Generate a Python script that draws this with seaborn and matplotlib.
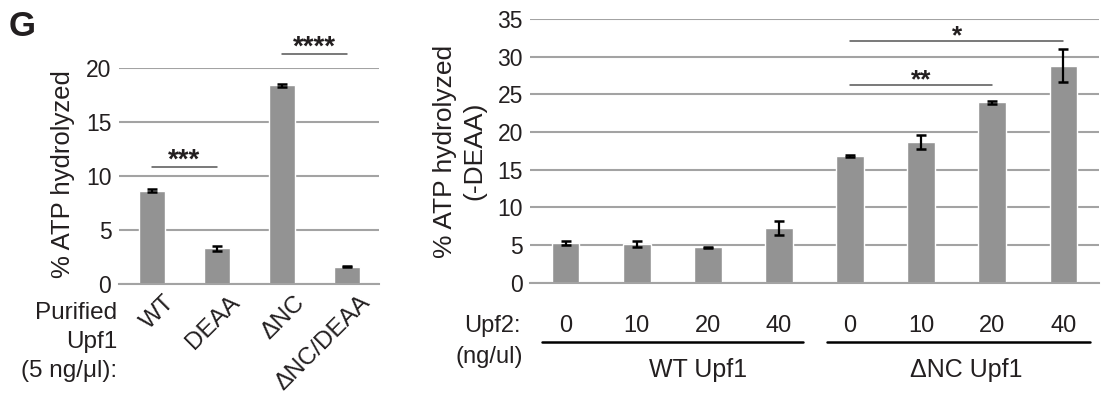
import matplotlib
matplotlib.use("Agg")
import matplotlib.pyplot as plt
import matplotlib.transforms as mtransforms
import seaborn as sns
import pandas as pd

# ---------------- data ----------------
left_categories = ["WT", "DEAA", "\u0394NC", "\u0394NC/DEAA"]
left_values = [8.65, 3.3, 18.4, 1.6]
left_errors = [0.12, 0.22, 0.15, 0.07]
left_yticks = [0, 5, 10, 15, 20]

right_conditions = ["WT 0", "WT 10", "WT 20", "WT 40",
                    "dNC 0", "dNC 10", "dNC 20", "dNC 40"]
right_doses = ["0", "10", "20", "40", "0", "10", "20", "40"]
right_values = [5.3, 5.2, 4.7, 7.3, 16.85, 18.65, 23.95, 28.8]
right_errors = [0.25, 0.4, 0.1, 0.95, 0.1, 0.9, 0.2, 2.2]
right_yticks = [0, 5, 10, 15, 20, 25, 30, 35]
right_groups = ["WT Upf1", "\u0394NC Upf1"]

# ---------------- style ----------------
sns.set_theme(style="white")
base_font = ["Liberation Sans", "DejaVu Sans"]
plt.rcParams["font.family"] = base_font

BAR = "#939393"
GRID = "#a3a3a3"
TXT = "#231f20"

fig = plt.figure(figsize=(11.05, 4.0), dpi=100)
W, H = 1105, 400


def px_axes(x0, y0, x1, y1):
    return fig.add_axes([x0 / W, 1 - y1 / H, (x1 - x0) / W, (y1 - y0) / H])


def style_axes(ax, yticks, fontsize, pad):
    ax.set_ylim(0, yticks[-1])
    ax.set_yticks(yticks)
    ax.yaxis.grid(True, color=GRID, linewidth=1.5)
    ax.set_axisbelow(True)
    for s in ["top", "right", "left"]:
        ax.spines[s].set_visible(False)
    ax.spines["bottom"].set_color(GRID)
    ax.spines["bottom"].set_linewidth(1.5)
    ax.tick_params(axis="both", length=0)
    ax.tick_params(axis="y", pad=pad, labelsize=fontsize, labelcolor=TXT)
    ax.set_xlabel("")
    ax.set_ylabel("")


def sig_bar(ax, x0, x1, y, stars, size, drop):
    ax.plot([x0, x1], [y, y], color="#555555", lw=1.1, clip_on=False)
    ax.annotate(stars, xy=((x0 + x1) / 2, y), xytext=(0, -drop),
                textcoords="offset points", ha="center", va="bottom",
                fontsize=size, fontweight="bold", color=TXT,
                annotation_clip=False)


# ---------------- left panel ----------------
axL = px_axes(119, 68, 379, 284)
dfL = pd.DataFrame({"cat": left_categories, "val": left_values})
sns.barplot(data=dfL, x="cat", y="val", color=BAR, width=0.4,
            errorbar=None, saturation=1, ax=axL)
axL.errorbar(range(len(left_values)), left_values, yerr=left_errors,
             fmt="none", ecolor="black", elinewidth=1.6, capsize=3.5,
             capthick=1.8)
axL.set_xlim(-0.5, len(left_categories) - 0.5)
style_axes(axL, left_yticks, 16.5, 5.5)
axL.set_xticks(range(len(left_categories)))
axL.set_xticklabels(left_categories, rotation=45, ha="right",
                    va="center", rotation_mode="anchor", fontsize=17.5,
                    color=TXT)
axL.tick_params(axis="x", pad=11)
off = mtransforms.ScaledTranslation(0.2, 0, fig.dpi_scale_trans)
for lab in axL.get_xticklabels():
    lab.set_transform(lab.get_transform() + off)

sig_bar(axL, 0, 1, 10.85, "***", 20, 5)
sig_bar(axL, 2, 3, 21.3, "****", 20, 5)

fig.text(63 / W, 1 - 174 / H, "% ATP hydrolyzed", rotation=90,
         ha="center", va="center", fontsize=18.5, color=TXT)
fig.text(117 / W, 1 - 342 / H, "Purified\nUpf1\n(5 ng/\u03bcl):",
         ha="right", va="center", fontsize=17.5, linespacing=1.4,
         color=TXT)
fig.text(9 / W, 1 - 26 / H, "G", ha="left", va="center",
         fontsize=25, fontweight="bold", color=TXT)

# ---------------- right panel ----------------
axR = px_axes(530, 19, 1099, 282.7)
dfR = pd.DataFrame({"cond": right_conditions, "val": right_values})
sns.barplot(data=dfR, x="cond", y="val", color=BAR, width=0.39,
            errorbar=None, saturation=1, ax=axR)
axR.errorbar(range(len(right_values)), right_values, yerr=right_errors,
             fmt="none", ecolor="black", elinewidth=1.6, capsize=3.5,
             capthick=1.8)
axR.set_xlim(-0.5, len(right_conditions) - 0.5)
style_axes(axR, right_yticks, 16.5, 5)
axR.set_xticks(range(len(right_conditions)))
axR.set_xticklabels(right_doses, fontsize=17, color=TXT, va="center")
axR.tick_params(axis="x", pad=31)

sig_bar(axR, 4, 6, 26.25, "**", 19, 5.5)
sig_bar(axR, 4, 7, 32.1, "*", 19, 5.5)

# group underlines and labels
blend = mtransforms.blended_transform_factory(axR.transData, axR.transAxes)
axR.plot([-0.335, 3.336], [-0.224, -0.224], color="black", lw=1.8,
         transform=blend, clip_on=False)
axR.plot([3.68, 7.38], [-0.224, -0.224], color="black", lw=1.8,
         transform=blend, clip_on=False)
axR.text(1.86, -0.33, right_groups[0], transform=blend, ha="center",
         va="center", fontsize=18, color=TXT)
axR.text(5.63, -0.33, right_groups[1], transform=blend, ha="center",
         va="center", fontsize=18, color=TXT)

fig.text(521 / W, 1 - 326 / H, "Upf2:", ha="right", va="center",
         fontsize=17, color=TXT)
fig.text(523 / W, 1 - 357 / H, "(ng/ul)", ha="right", va="center",
         fontsize=17, color=TXT)
fig.text(460 / W, 1 - 151 / H, "% ATP hydrolyzed\n(-DEAA)", rotation=90,
         ha="center", va="center", fontsize=19, multialignment="center",
         linespacing=1.3, color=TXT)

fig.savefig("out.png", dpi=100)
